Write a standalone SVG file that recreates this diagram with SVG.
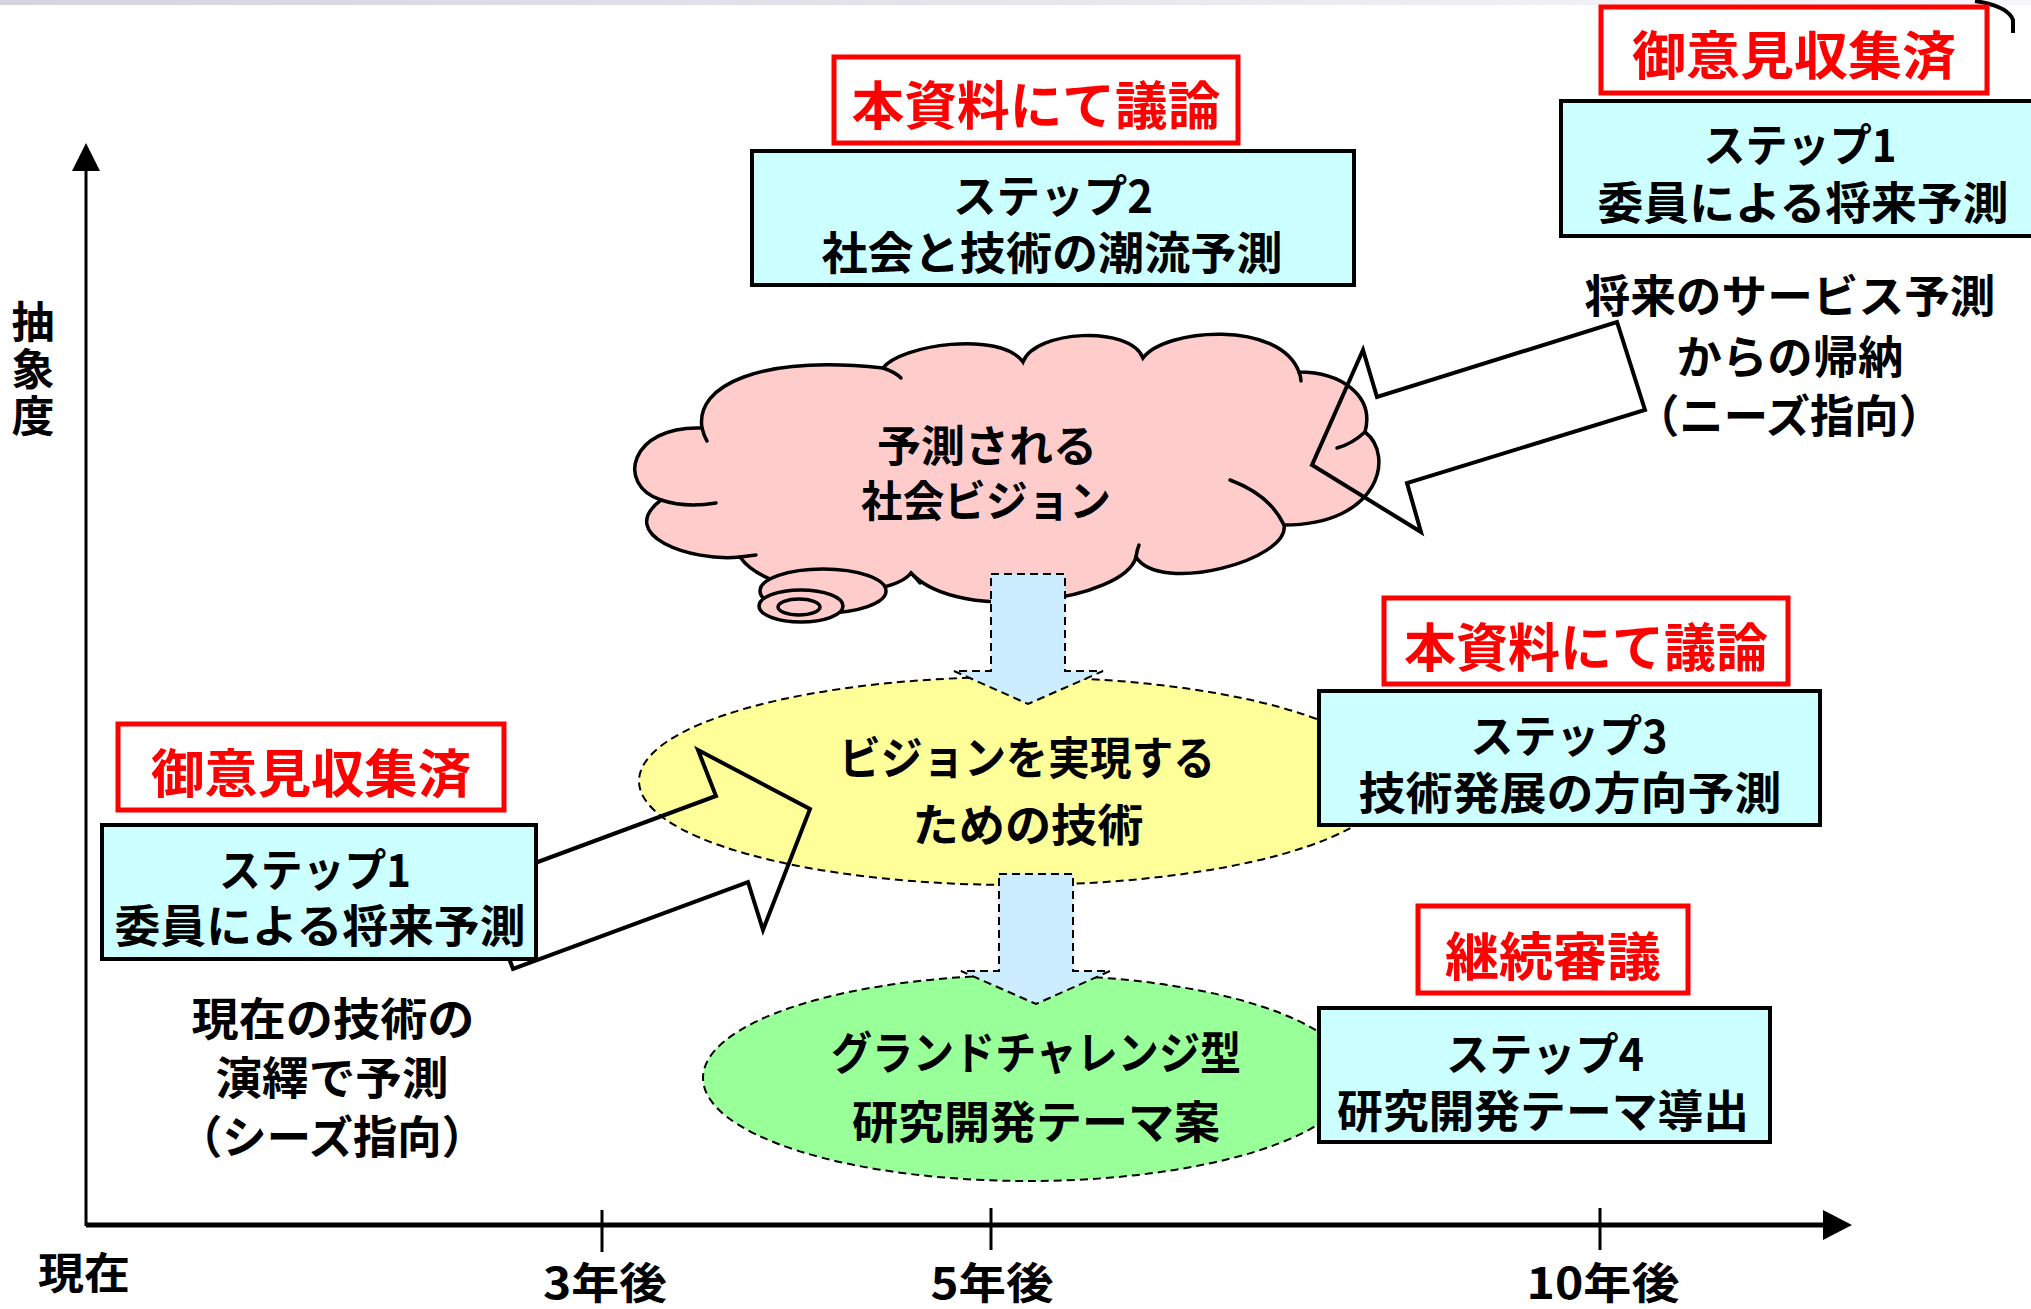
<svg xmlns="http://www.w3.org/2000/svg" width="2031" height="1309" viewBox="0 0 2031 1309">
  <defs>
    <linearGradient id="topband" x1="0" y1="0" x2="1" y2="0">
      <stop offset="0" stop-color="#d4d4de"/>
      <stop offset="1" stop-color="#f7f7fb"/>
    </linearGradient>
    <style>
      text{font-family:"Noto Sans CJK JP","Noto Sans CJK SC",sans-serif;font-weight:700;dominant-baseline:central;text-anchor:middle}
      .t{font-size:45px;fill:#000}
      .s{font-size:43px;fill:#000}
      .r{font-size:52px;fill:#ff0000}
      .step{fill:#ccffff;stroke:#000;stroke-width:4}
      .tag{fill:#fff;stroke:#ff0000;stroke-width:5}
      .flow{fill:#ccecff;stroke:#000;stroke-width:2;stroke-dasharray:8 5}
      .area{stroke:#000;stroke-width:2;stroke-dasharray:8 5}
      .blk{fill:none;stroke:#000;stroke-width:4;stroke-linejoin:miter}
      .ln{fill:none;stroke:#000;stroke-width:3.5;stroke-linecap:round}
    </style>
  </defs>

  <rect width="2031" height="1309" fill="#fff"/>
  <rect x="0" y="0" width="2031" height="5" fill="url(#topband)"/>
  <path d="M1975 1 Q2008 6 2013 20 L2013 33" fill="none" stroke="#000" stroke-width="4"/>

  <!-- axes -->
  <g id="axes">
    <line x1="86" y1="168" x2="86" y2="1226" stroke="#000" stroke-width="3"/>
    <polygon points="86,143 72,171 100,171" fill="#000"/>
    <line x1="86" y1="1225" x2="1826" y2="1225" stroke="#000" stroke-width="5"/>
    <polygon points="1852,1225 1823,1210 1823,1240" fill="#000"/>
    <line x1="602" y1="1210" x2="602" y2="1252" stroke="#000" stroke-width="3"/>
    <line x1="991" y1="1208" x2="991" y2="1250" stroke="#000" stroke-width="3"/>
    <line x1="1600" y1="1208" x2="1600" y2="1250" stroke="#000" stroke-width="3"/>
    <text class="s" x="84" y="1270" textLength="92" lengthAdjust="spacingAndGlyphs">現在</text>
    <text class="s" x="605" y="1280" textLength="124" lengthAdjust="spacingAndGlyphs">3年後</text>
    <text class="s" x="992" y="1280" textLength="123" lengthAdjust="spacingAndGlyphs">5年後</text>
    <text class="s" x="1603" y="1280" textLength="153" lengthAdjust="spacingAndGlyphs">10年後</text>
    <text class="s" x="33" y="300" style="writing-mode:vertical-rl;text-anchor:start;letter-spacing:4px">抽象度</text>
  </g>

  <!-- predicted social vision (cloud) -->
  <g id="cloud">
    <path fill="#ffcccc" stroke="#000" stroke-width="3.5" d="M702 428 C695 385 760 355 883 368 C900 345 1000 330 1023 362 C1035 330 1130 325 1143 358 C1165 328 1280 320 1299 372 C1340 372 1375 395 1365 432 C1395 455 1380 525 1284 525 C1290 560 1160 595 1136 557 C1125 600 960 625 911 573 C890 600 770 600 740 557 C690 562 615 535 661 500 C615 485 630 425 702 428 Z"/>
    <path class="ln" d="M661 500 Q685 508 716 503"/>
    <path class="ln" d="M702 428 Q704 436 707 441"/>
    <path class="ln" d="M883 368 Q895 372 901 378"/>
    <path class="ln" d="M1299 372 Q1301 377 1301 381"/>
    <path class="ln" d="M1365 432 Q1352 444 1337 448"/>
    <path class="ln" d="M1284 525 Q1270 495 1230 480"/>
    <path class="ln" d="M1136 557 Q1137 550 1139 545"/>
    <path class="ln" d="M911 573 Q915 577 920 583"/>
    <path class="ln" d="M740 557 Q748 556 756 555"/>
    <ellipse cx="823" cy="591" rx="63" ry="22" fill="#ffcccc" stroke="#000" stroke-width="3.5"/>
    <ellipse cx="801" cy="606" rx="42" ry="16" fill="#ffcccc" stroke="#000" stroke-width="3.5"/>
    <ellipse cx="799" cy="607" rx="21" ry="8" fill="#ffcccc" stroke="#000" stroke-width="3.5"/>
    <text class="s" x="987" y="443" textLength="220" lengthAdjust="spacingAndGlyphs">予測される</text>
    <text class="s" x="986" y="498" textLength="250" lengthAdjust="spacingAndGlyphs">社会ビジョン</text>
  </g>

  <!-- enabling technologies -->
  <g id="tech">
    <ellipse class="area" cx="1015" cy="781" rx="376" ry="104" fill="#ffff99"/>
  </g>

  <!-- grand challenge themes -->
  <g id="themes">
    <ellipse class="area" cx="1028" cy="1078" rx="325" ry="103" fill="#99ff99"/>
  </g>

  <!-- connectors -->
  <g id="connectors">
    <path class="flow" d="M991 574 L1065 574 L1065 671 L1103 671 L1028 704 L954 671 L991 671 Z"/>
    <path class="flow" d="M999 874 L1073 874 L1073 971 L1110 971 L1036 1004 L961 971 L999 971 Z"/>
    <path class="blk" d="M1312 465 L1363 350 L1377 397 L1617 322 L1645 410 L1407 483 L1421 532 Z"/>
    <path class="blk" d="M481 883 L716 796 L698 750 L810 809 L763 930 L748 882 L513 969 Z"/>
  </g>

  <text class="t" x="1027" y="755" textLength="376" lengthAdjust="spacingAndGlyphs">ビジョンを実現する</text>
  <text class="t" x="1028" y="822" textLength="231" lengthAdjust="spacingAndGlyphs">ための技術</text>
  <text class="t" x="1036" y="1050" textLength="410" lengthAdjust="spacingAndGlyphs">グランドチャレンジ型</text>
  <text class="t" x="1036" y="1119" textLength="368" lengthAdjust="spacingAndGlyphs">研究開発テーマ案</text>

  <!-- step 2 -->
  <g id="step2">
    <rect class="tag" x="834" y="57" width="404" height="86"/>
    <text class="r" x="1036" y="102" textLength="369" lengthAdjust="spacingAndGlyphs">本資料にて議論</text>
    <rect class="step" x="752" y="151" width="602" height="134"/>
    <text class="t" x="1053" y="193" textLength="200" lengthAdjust="spacingAndGlyphs">ステップ2</text>
    <text class="t" x="1052" y="250" textLength="461" lengthAdjust="spacingAndGlyphs">社会と技術の潮流予測</text>
  </g>

  <!-- step 1 (needs side) -->
  <g id="step1-needs">
    <rect class="tag" x="1601" y="7" width="386" height="86"/>
    <text class="r" x="1794" y="52" textLength="324" lengthAdjust="spacingAndGlyphs">御意見収集済</text>
    <rect class="step" x="1561" y="101" width="490" height="135"/>
    <text class="t" x="1800" y="142" textLength="193" lengthAdjust="spacingAndGlyphs">ステップ1</text>
    <text class="t" x="1803" y="200" textLength="411" lengthAdjust="spacingAndGlyphs">委員による将来予測</text>
  </g>

  <g id="needs-note">
    <text class="t" x="1790" y="293" textLength="411" lengthAdjust="spacingAndGlyphs">将来のサービス予測</text>
    <text class="t" x="1790" y="354" textLength="227" lengthAdjust="spacingAndGlyphs">からの帰納</text>
    <text class="t" x="1789" y="413" textLength="308" lengthAdjust="spacingAndGlyphs">（ニーズ指向）</text>
  </g>

  <!-- step 1 (seeds side) -->
  <g id="step1-seeds">
    <rect class="tag" x="118" y="724" width="386" height="86"/>
    <text class="r" x="311" y="770" textLength="320" lengthAdjust="spacingAndGlyphs">御意見収集済</text>
    <rect class="step" x="102" y="825" width="434" height="134"/>
    <text class="t" x="315" y="867" textLength="192" lengthAdjust="spacingAndGlyphs">ステップ1</text>
    <text class="t" x="320" y="923" textLength="411" lengthAdjust="spacingAndGlyphs">委員による将来予測</text>
  </g>

  <g id="seeds-note">
    <text class="t" x="333" y="1016" textLength="283" lengthAdjust="spacingAndGlyphs">現在の技術の</text>
    <text class="t" x="332" y="1075" textLength="233" lengthAdjust="spacingAndGlyphs">演繹で予測</text>
    <text class="t" x="332" y="1134" textLength="308" lengthAdjust="spacingAndGlyphs">（シーズ指向）</text>
  </g>

  <!-- step 3 -->
  <g id="step3">
    <rect class="tag" x="1384" y="598" width="404" height="86"/>
    <text class="r" x="1586" y="644" textLength="364" lengthAdjust="spacingAndGlyphs">本資料にて議論</text>
    <rect class="step" x="1319" y="691" width="501" height="134"/>
    <text class="t" x="1569" y="733" textLength="197" lengthAdjust="spacingAndGlyphs">ステップ3</text>
    <text class="t" x="1570" y="790" textLength="423" lengthAdjust="spacingAndGlyphs">技術発展の方向予測</text>
  </g>

  <!-- step 4 -->
  <g id="step4">
    <rect class="tag" x="1418" y="906" width="270" height="87"/>
    <text class="r" x="1553" y="953" textLength="216" lengthAdjust="spacingAndGlyphs">継続審議</text>
    <rect class="step" x="1319" y="1008" width="451" height="134"/>
    <text class="t" x="1545" y="1051" textLength="198" lengthAdjust="spacingAndGlyphs">ステップ4</text>
    <text class="t" x="1543" y="1108" textLength="412" lengthAdjust="spacingAndGlyphs">研究開発テーマ導出</text>
  </g>
</svg>
